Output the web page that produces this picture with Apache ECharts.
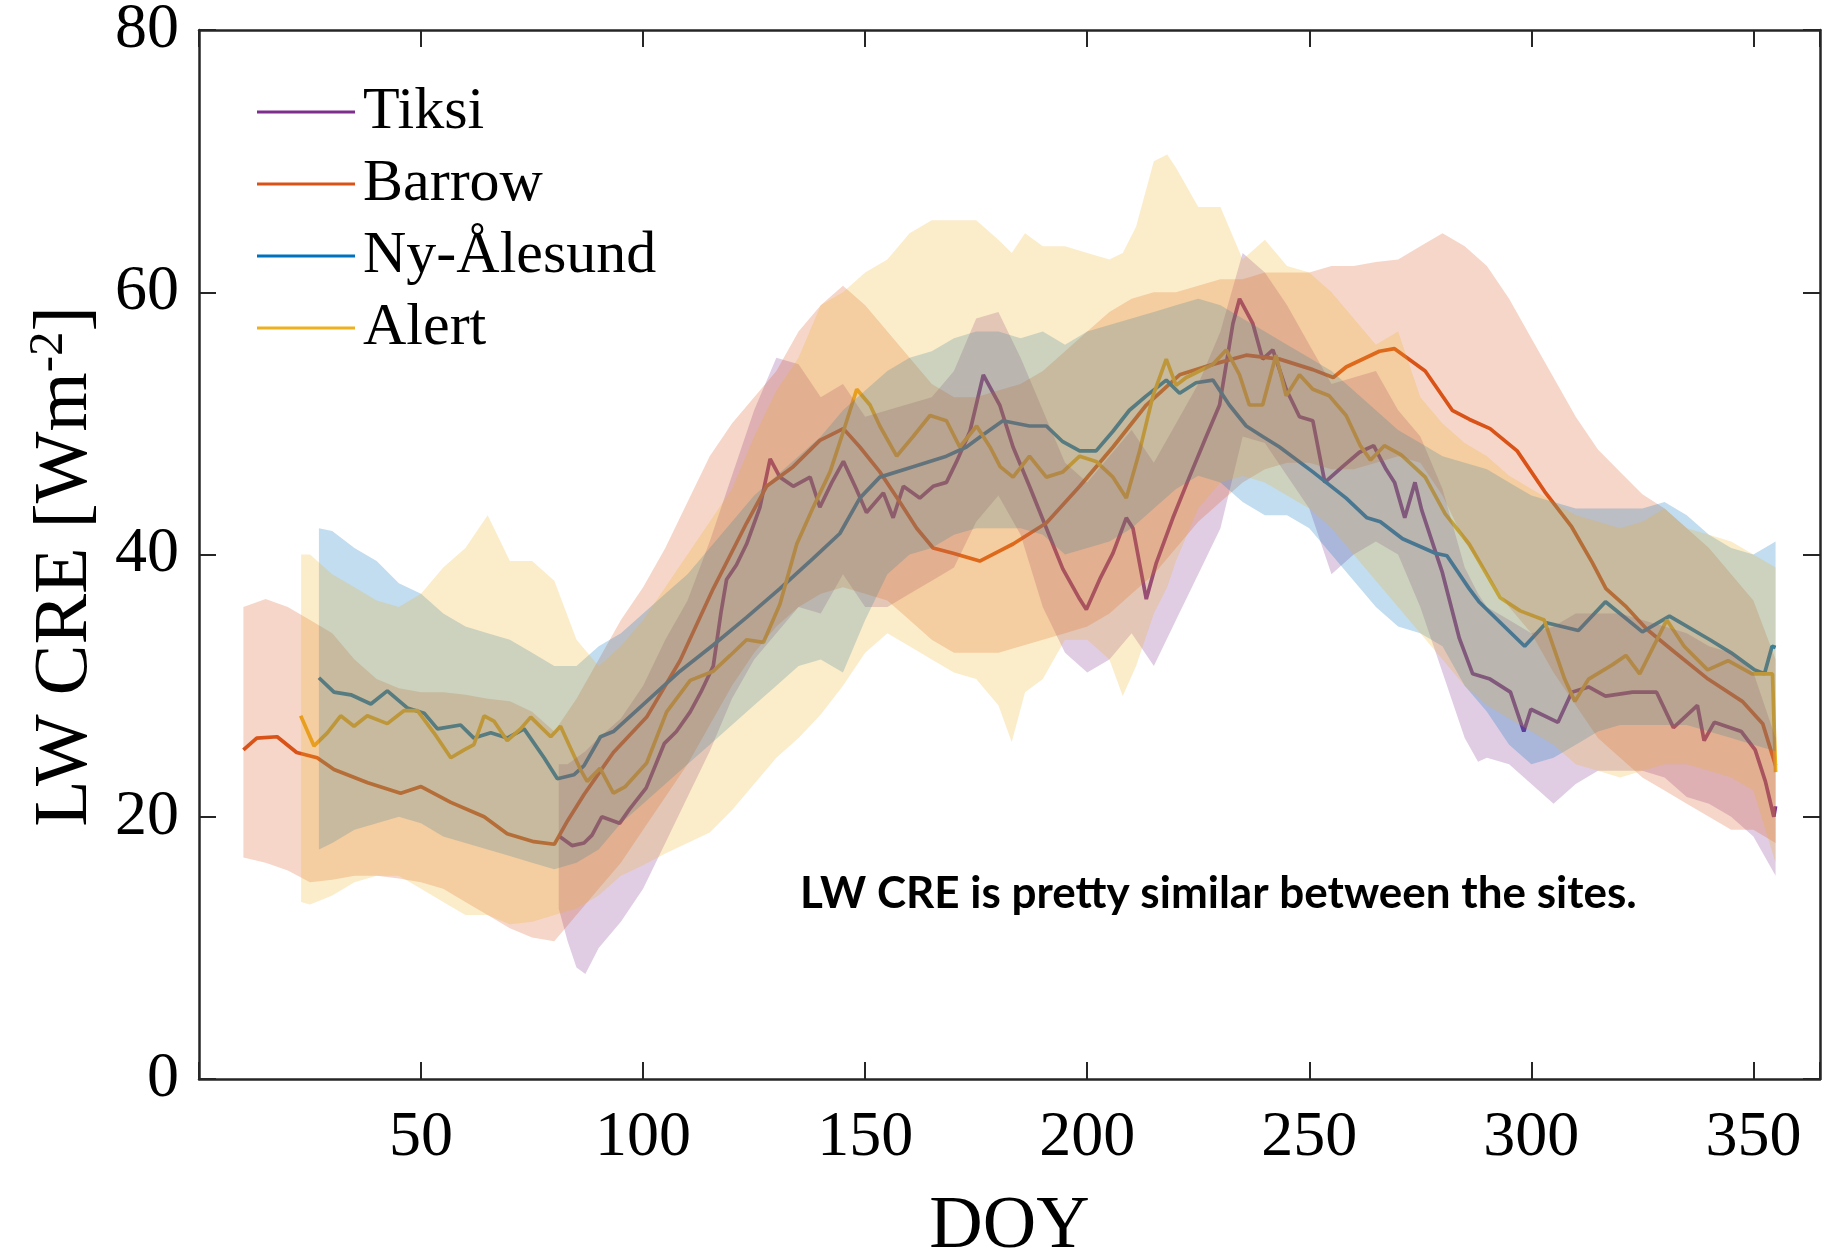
<!DOCTYPE html>
<html><head><meta charset="utf-8">
<script src="https://cdn.jsdelivr.net/npm/echarts@6/dist/echarts.min.js"></script>
<style>html,body{margin:0;padding:0;background:#fff}#c{width:1835px;height:1251px}</style>
</head><body><div id="c"></div>
<script>
// ---------- data ----------
const siteNames = ['Tiksi', 'Barrow', 'Ny-Ålesund', 'Alert'];
const siteColors = ['#7E2F8E', '#D95319', '#0072BD', '#EDB120'];
const xTickValues = [50, 100, 150, 200, 250, 300, 350];
const yTickValues = [0, 20, 40, 60, 80];

// mean lines: [DOY, LW CRE]
const tiksiLine = [[81.2,18.5],[84,17.8],[86.7,18.0],[88.5,18.6],[90.7,20.0],[94.7,19.5],[97,20.6],[100.7,22.2],[104.8,25.6],[107.5,26.5],[110.6,28.0],[113,29.5],[115.8,31.5],[117.5,35.5],[118.8,38.1],[121,39.2],[123.3,40.8],[126.3,43.6],[128.6,47.3],[130.8,45.9],[133.8,45.2],[137.6,45.9],[139.8,43.6],[142.5,45.5],[145.1,47.1],[148,45.0],[150.3,43.2],[154.1,44.7],[156.3,42.8],[158.6,45.2],[162.3,44.3],[165.3,45.2],[168.3,45.5],[170.6,47.1],[173.6,49.4],[176.6,53.7],[180.3,51.4],[183.3,48.2],[187,45.2],[190.8,42.0],[194.5,38.9],[198.3,36.6],[199.8,35.8],[202.8,38.1],[205.8,40.1],[208.8,42.8],[210.3,42.0],[213.3,36.6],[215.5,39.3],[219.3,42.8],[223,45.9],[226.8,49.0],[229.8,51.4],[232.8,57.6],[234.3,59.5],[237.3,57.6],[239.5,54.9],[241.8,55.6],[244.8,52.6],[247.8,50.5],[250.8,50.2],[253.5,45.5],[257.5,46.7],[261.3,47.8],[264.5,48.3],[267.3,46.5],[269.2,45.5],[271.5,42.8],[273.8,45.5],[275.3,43.4],[279.9,38.7],[283.8,33.6],[286.8,30.9],[290.7,30.5],[295.3,29.5],[298.3,26.5],[299.9,28.2],[306,27.2],[309.1,29.5],[312.9,29.9],[316.7,29.2],[322.8,29.5],[328.2,29.5],[332,26.8],[337.4,28.5],[338.9,25.8],[341.2,27.2],[347.3,26.5],[350.4,25.1],[352.7,22.7],[354.6,20.0],[355,20.8]];

const barrowLine = [[10,25.1],[13,26.0],[17.6,26.1],[22,24.9],[26.6,24.5],[30.4,23.6],[38,22.6],[45.4,21.8],[50,22.3],[56.7,21.1],[64.2,20.0],[69.4,18.7],[75.4,18.1],[80,17.9],[83,19.7],[86.7,21.7],[90.4,23.5],[93.3,24.9],[100.8,27.6],[108.3,31.9],[115.8,37.4],[123.3,42.4],[127.8,45.2],[133.8,46.7],[139.8,48.7],[145.1,49.6],[148.8,48.2],[153.3,46.3],[157.8,44.0],[161.6,42.0],[165.3,40.5],[169.8,40.1],[175.8,39.5],[180.4,40.3],[183.3,40.8],[190.8,42.4],[198.3,45.2],[205.8,48.2],[213.3,51.4],[220.8,53.7],[228.3,54.5],[235.8,55.2],[243.3,54.9],[250.8,54.1],[255.4,53.5],[258.3,54.3],[265.8,55.5],[269.2,55.7],[276.1,54.0],[282.2,51.0],[286.1,50.3],[290.7,49.6],[296.8,47.9],[303,44.8],[309.1,42.1],[313.7,39.4],[316.8,37.4],[321.4,36.0],[326,34.3],[332.1,32.6],[339.8,30.5],[347.5,28.8],[352.1,27.1],[355,23.9]];

const nyAlesundLine = [[27,30.6],[30.4,29.5],[34.2,29.3],[38.7,28.6],[42.4,29.6],[46.9,28.3],[50.7,27.9],[53.7,26.7],[58.9,27.0],[61.9,26.0],[65.7,26.4],[69.4,26.0],[73.2,26.7],[77.7,24.5],[80.7,22.9],[84.4,23.2],[86.7,23.9],[90.4,26.1],[93.3,26.5],[100.8,28.8],[108.3,31.1],[115.8,33.1],[123.3,35.2],[130.8,37.4],[138.3,39.7],[144.3,41.6],[148.8,44.3],[153.3,45.9],[160.8,46.7],[168.3,47.5],[172.8,48.2],[176,49.0],[181,50.2],[187,49.8],[190.8,49.8],[194.5,48.6],[198.3,47.9],[202,47.9],[205.8,49.4],[209.5,51.0],[213.3,52.1],[217.8,53.3],[220.8,52.3],[224.5,53.1],[228.3,53.3],[232,51.4],[235.8,49.8],[239.5,49.0],[243.3,48.2],[250.8,46.3],[258.3,44.3],[263,42.8],[266,42.5],[271,41.2],[278.4,40.1],[281,39.9],[286,37.4],[288.2,36.4],[298.5,33.0],[303.4,34.8],[310.6,34.2],[316.7,36.4],[325,34.1],[331.1,35.3],[340.2,33.5],[345,32.5],[350.3,31.2],[352.5,30.9],[354.2,33.0],[355,32.9]];

const alertLine = [[22.9,27.7],[25.9,25.4],[28.9,26.4],[31.9,27.7],[34.9,26.9],[37.9,27.7],[42.4,27.1],[46.2,28.1],[49.2,28.1],[52.9,26.4],[56.7,24.5],[59.7,25.1],[61.9,25.5],[64.2,27.7],[66.4,27.3],[69.4,25.8],[72.4,26.7],[74.7,27.6],[79.2,26.1],[81.4,26.9],[83.7,25.2],[85.9,23.6],[87.4,22.7],[90.3,23.7],[93.3,21.8],[96,22.3],[100.8,24.1],[105.3,28.0],[110.6,30.4],[115.8,31.1],[119.6,32.3],[123.3,33.5],[127.1,33.3],[130.8,36.2],[134.6,40.8],[138.3,43.6],[142.1,46.3],[145.1,49.4],[148.1,52.6],[151.1,51.4],[153.3,49.8],[157.1,47.5],[160.8,49.0],[164.6,50.6],[168.3,50.2],[171.3,48.2],[175.1,49.8],[178.1,48.2],[180.4,46.7],[183.3,45.9],[187,47.5],[190.8,45.9],[194.5,46.3],[198.3,47.5],[202,47.1],[205.8,45.9],[208.8,44.3],[211.8,47.9],[214.8,52.1],[217.8,54.9],[220,52.9],[222.3,53.5],[228.3,54.5],[231.3,55.6],[234.3,53.7],[236.5,51.4],[239.5,51.4],[242.5,55.2],[244.8,52.1],[247.8,53.7],[250.8,52.6],[254.5,52.1],[258.3,50.6],[261.5,48.3],[263.8,47.2],[266.9,48.3],[270.7,47.6],[276.1,45.9],[280.6,43.1],[286,40.8],[293,36.7],[297.5,35.7],[302.9,35.0],[307.5,30.5],[309.8,28.8],[312.9,30.5],[318.3,31.6],[321.3,32.3],[324.4,30.9],[330.5,35.0],[334.4,33.0],[339.7,31.2],[344.3,31.9],[349.7,30.9],[354.3,30.9],[355,23.4]];

// spread bands: [DOY, lower, upper]
const tiksiBand = [[81,13.0,24.0],[83,10.5,24.0],[85,8.5,24.5],[87,8.0,25.0],[90,10.0,26.0],[95,12.0,27.5],[100,14.5,30.0],[105,18.0,33.5],[110,21.5,36.5],[115,25.0,41.0],[120,29.0,46.0],[125,32.0,51.0],[130,34.0,55.0],[135,36.0,54.5],[140,35.5,52.0],[145,38.5,53.0],[150,36.0,50.5],[155,36.0,51.0],[160,37.0,51.5],[165,38.0,52.0],[170,39.0,54.0],[175,42.5,58.0],[180,44.5,58.5],[185,41.5,55.0],[190,36.0,51.0],[195,32.5,47.0],[200,31.0,45.5],[205,32.0,47.5],[210,34.0,49.5],[215,31.5,47.0],[220,35.0,50.0],[225,38.5,53.0],[230,42.0,57.0],[235,49.0,63.0],[240,48.5,61.5],[245,46.0,59.0],[250,43.5,56.0],[255,38.5,53.0],[260,40.0,53.5],[265,41.0,54.0],[270,40.0,51.0],[275,36.0,49.0],[280,31.0,45.0],[285,26.0,39.0],[288,24.2,37.0],[290,24.5,36.0],[295,24.0,35.0],[300,22.5,34.0],[305,21.0,34.5],[310,22.5,35.5],[315,23.5,35.5],[320,23.5,35.5],[325,23.5,35.0],[330,23.0,34.5],[335,21.5,34.0],[340,21.0,33.0],[345,20.0,32.5],[350,18.5,31.0],[355,15.5,26.0]];

const barrowBand = [[10,16.9,36.0],[15,16.5,36.6],[20,15.9,36.0],[25,15.0,35.0],[30,15.2,34.0],[35,15.5,32.0],[40,15.5,30.5],[45,15.3,29.8],[50,15.0,29.5],[55,14.5,29.5],[60,13.5,29.3],[65,12.5,29.0],[70,11.5,28.8],[75,10.8,28.0],[80,10.5,26.5],[85,12.5,29.0],[90,14.5,32.0],[95,16.5,35.0],[100,19.0,37.5],[105,21.5,40.5],[110,24.0,44.0],[115,27.0,47.5],[120,30.0,50.0],[125,32.5,52.0],[130,34.5,54.0],[135,36.0,57.0],[140,37.0,59.0],[145,37.5,60.5],[150,37.0,59.0],[155,36.5,57.0],[160,35.0,55.0],[165,33.5,53.0],[170,32.5,52.0],[175,32.5,52.0],[180,32.5,52.5],[185,33.0,53.0],[190,33.5,54.0],[195,34.0,55.5],[200,34.5,57.0],[205,35.5,58.5],[210,37.0,59.5],[215,38.5,60.0],[220,40.5,60.0],[225,42.5,60.5],[230,44.0,61.0],[235,45.5,61.0],[240,46.5,61.5],[245,47.0,61.5],[250,47.0,61.5],[255,46.5,62.0],[260,46.5,62.0],[265,47.0,62.3],[270,47.5,62.5],[275,47.0,63.5],[280,44.5,64.5],[285,41.0,63.5],[290,38.5,62.0],[295,36.0,59.5],[300,34.0,56.5],[305,31.0,53.5],[310,28.5,50.5],[315,26.0,48.0],[320,24.5,46.3],[325,23.0,44.6],[330,22.0,43.5],[335,21.0,42.0],[340,20.0,40.5],[345,19.0,38.5],[350,19.0,36.5],[355,18.0,32.0]];

const nyAlesundBand = [[27,17.5,42.0],[30,18.0,41.8],[35,19.0,40.5],[40,19.5,39.5],[45,20.0,37.8],[50,19.5,37.0],[55,18.5,35.5],[60,18.0,34.5],[65,17.5,34.0],[70,17.0,33.5],[75,16.5,32.5],[80,16.0,31.5],[85,16.5,31.5],[90,17.5,33.0],[95,19.5,34.0],[100,21.0,35.5],[105,22.5,37.0],[110,24.0,38.5],[115,25.5,40.5],[120,27.0,42.5],[125,28.5,44.5],[130,30.0,46.0],[135,31.5,47.5],[140,32.0,49.0],[145,31.0,51.0],[150,35.0,52.5],[155,38.5,54.0],[160,40.0,55.0],[165,40.5,55.5],[170,41.5,56.5],[175,42.0,57.0],[180,42.0,57.0],[185,42.0,56.5],[190,41.5,57.0],[195,40.0,56.0],[200,40.5,57.0],[205,41.0,57.5],[210,42.0,58.0],[215,43.5,58.5],[220,45.0,59.0],[225,46.0,59.5],[230,45.5,59.0],[235,44.0,58.0],[240,43.0,57.0],[245,43.0,56.0],[250,42.0,55.0],[255,40.0,54.0],[260,38.0,52.5],[265,36.0,51.0],[270,34.5,49.5],[275,34.0,48.5],[280,33.0,47.5],[285,30.0,47.0],[290,28.0,46.5],[295,25.5,45.5],[300,24.0,44.5],[305,24.5,44.0],[310,25.5,43.5],[315,26.5,43.5],[320,27.0,43.5],[325,27.0,43.5],[330,27.0,44.0],[335,27.0,43.0],[340,26.5,41.5],[345,26.0,40.5],[350,25.5,40.0],[355,25.0,41.0]];

const alertBand = [[23,13.5,40.0],[25,13.3,40.0],[30,14.0,38.5],[35,15.0,37.5],[40,15.5,36.5],[45,15.5,36.0],[50,14.5,37.0],[55,13.5,39.0],[60,12.5,40.5],[65,12.5,43.0],[70,11.8,39.5],[75,12.0,39.5],[80,12.5,38.0],[85,13.0,33.5],[90,14.0,31.5],[95,15.5,33.0],[100,16.3,35.0],[105,17.2,37.5],[110,18.0,40.0],[115,18.8,42.5],[120,20.5,45.0],[125,22.5,49.0],[130,24.5,52.5],[135,26.0,55.0],[140,27.8,59.0],[145,30.0,60.0],[150,32.5,61.5],[155,34.0,62.5],[160,33.0,64.5],[165,32.0,65.5],[170,31.0,65.5],[175,30.5,65.5],[180,28.5,64.0],[183,25.7,63.0],[186,29.5,64.5],[190,30.5,63.5],[195,33.5,63.5],[200,33.5,63.0],[205,32.0,62.5],[208,29.2,63.0],[211,31.5,65.0],[215,35.5,70.0],[218,37.5,70.5],[220,39.5,69.5],[225,43.5,66.5],[230,45.5,66.5],[235,46.0,62.5],[240,45.5,64.0],[245,44.5,62.0],[250,43.5,61.5],[255,42.0,60.0],[260,40.0,58.0],[265,38.0,56.0],[270,36.0,57.0],[275,34.0,52.0],[280,32.0,50.0],[285,30.0,48.5],[290,28.5,47.5],[295,27.5,46.0],[300,26.5,45.0],[305,25.5,44.0],[310,24.0,43.0],[315,23.5,42.5],[320,23.0,42.0],[325,23.5,42.5],[330,24.0,43.5],[335,24.0,42.0],[340,23.5,41.5],[345,23.0,41.0],[350,22.0,40.0],[355,16.5,39.0]];

const annotationText = 'LW CRE is pretty similar between the sites.';

// ---------- chart ----------
const lines = [tiksiLine, barrowLine, nyAlesundLine, alertLine];
const bands = [tiksiBand, barrowBand, nyAlesundBand, alertBand];
const SERIF = 'Liberation Serif';
const AX = '#262626';

function bandSeries(i) {
  const band = bands[i];
  return {
    type: 'custom', name: siteNames[i] + ' spread', silent: true, z: 3,
    clip: true, data: [[180, 40]],
    renderItem: function (params, api) {
      const pts = [];
      for (let k = 0; k < band.length; k++) pts.push(api.coord([band[k][0], band[k][2]]));
      for (let k = band.length - 1; k >= 0; k--) pts.push(api.coord([band[k][0], band[k][1]]));
      return { type: 'polygon', shape: { points: pts }, style: { fill: siteColors[i], opacity: 0.24 } };
    }
  };
}
function lineSeries(i) {
  return {
    type: 'line', name: siteNames[i], data: lines[i], showSymbol: false, symbol: 'none',
    z: 2, clip: true, animation: false,
    lineStyle: { color: siteColors[i], width: 3.7 },
    itemStyle: { color: siteColors[i] }
  };
}
const series = [];
for (let i = 0; i < 4; i++) series.push(lineSeries(i));
for (let i = 0; i < 4; i++) series.push(bandSeries(i));

function xAx(pos, showLabels) {
  return {
    type: 'value', position: pos, min: 0, max: 365, interval: 50,
    axisLine: { show: true, onZero: false, lineStyle: { color: AX, width: 2.5 } },
    axisTick: { show: true, inside: true, length: 17, lineStyle: { color: AX, width: 2 } },
    axisLabel: {
      show: showLabels, margin: 27, fontFamily: SERIF, fontSize: 64, color: '#000',
      formatter: v => (xTickValues.indexOf(v) >= 0 ? String(v) : '')
    },
    splitLine: { show: false },
    name: showLabels ? 'DOY' : '', nameLocation: 'middle', nameGap: 112,
    nameTextStyle: { fontFamily: SERIF, fontSize: 74, color: '#000' }
  };
}
function yAx(pos, showLabels) {
  return {
    type: 'value', position: pos, min: 0, max: 80, interval: 20,
    axisLine: { show: true, onZero: false, lineStyle: { color: AX, width: 2.5 } },
    axisTick: { show: true, inside: true, length: 17, lineStyle: { color: AX, width: 2 } },
    axisLabel: {
      show: showLabels, margin: 20, fontFamily: SERIF, fontSize: 64, color: '#000',
      formatter: v => (yTickValues.indexOf(v) >= 0 ? String(v) : '')
    },
    splitLine: { show: false },
    name: showLabels ? '{t|LW CRE [Wm}{s|-2}{t|]}' : '', nameLocation: 'middle', nameGap: 86,
    nameRotate: 90,
    nameTextStyle: {
      fontFamily: SERIF, fontSize: 76, color: '#000', padding: [0, 24, 0, 0],
      rich: {
        t: { fontFamily: SERIF, fontSize: 76, color: '#000', lineHeight: 82 },
        s: { fontFamily: SERIF, fontSize: 49, color: '#000', verticalAlign: 'top', lineHeight: 82 }
      }
    }
  };
}

const chart = echarts.init(document.getElementById('c'), null, { renderer: 'canvas' });
chart.setOption({
  animation: false,
  backgroundColor: '#fff',
  grid: { left: 199, right: 15, top: 30, bottom: 172, containLabel: false, outerBoundsMode: 'none' },
  xAxis: [xAx('bottom', true), xAx('top', false)],
  yAxis: [yAx('left', true), yAx('right', false)],
  legend: {
    data: siteNames, orient: 'vertical', left: 252, top: 77,
    icon: 'rect', itemWidth: 98, itemHeight: 3, itemGap: 12,
    selectedMode: false,
    textStyle: { fontFamily: SERIF, fontSize: 60, color: '#000', lineHeight: 60, padding: [0, 0, 0, 3] }
  },
  graphic: [{
    type: 'text', left: 800, top: 872, silent: true, z: 10,
    style: { text: annotationText, font: 'bold 44px Lato', fill: '#000' }
  }],
  series: series
});
</script></body></html>
